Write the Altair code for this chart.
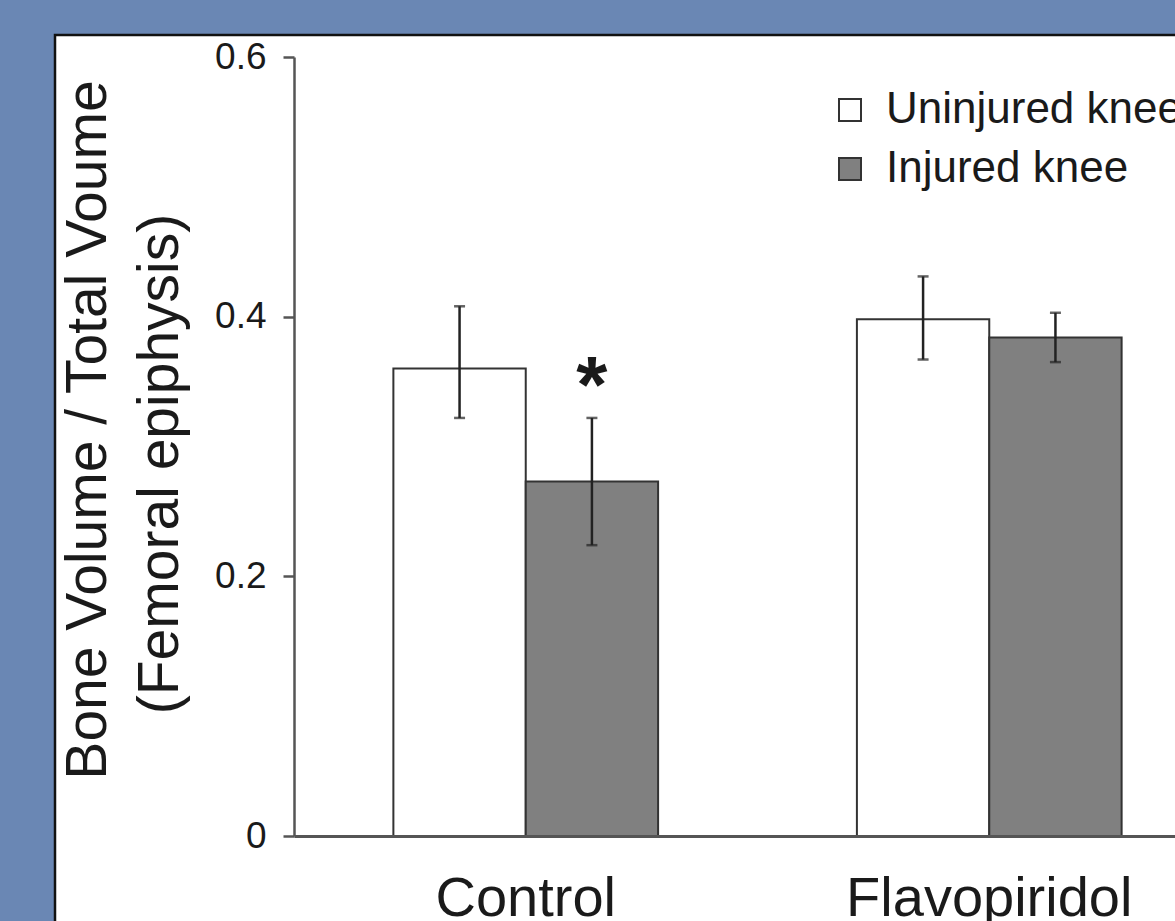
import altair as alt
import pandas as pd

# Bone volume fraction of the femoral epiphysis, mean with error range
groups = ["Control", "Control", "Flavopiridol", "Flavopiridol"]
knees = ["Uninjured knee", "Injured knee", "Uninjured knee", "Injured knee"]
means = [0.360, 0.273, 0.398, 0.384]
err_low = [0.322, 0.224, 0.367, 0.365]
err_high = [0.408, 0.322, 0.431, 0.403]
marks = ["", "*", "", ""]

knee_order = ["Uninjured knee", "Injured knee"]
knee_fill = ["#ffffff", "#808080"]
group_order = ["Control", "Flavopiridol"]
y_ticks = [0, 0.2, 0.4, 0.6]
title_lines = ["Bone Volume / Total Voume", "(Femoral epiphysis)"]

df = pd.DataFrame({
    "group": groups,
    "knee": knees,
    "mean": means,
    "low": err_low,
    "high": err_high,
    "mark": marks,
})

FONT = "Liberation Sans"
INK = "#1a1a1a"
AXIS = "#555555"

x_enc = alt.X(
    "group:N",
    sort=group_order,
    scale=alt.Scale(range=[0, 927], paddingInner=0.4289, paddingOuter=0.2144),
    axis=alt.Axis(
        title=None, ticks=False, labelAngle=0, labelFontSize=56, labelFont=FONT,
        labelColor=INK, labelPadding=35, labelLimit=600, domainColor=AXIS,
        domainWidth=3, zindex=2,
    ),
)
xo_enc = alt.XOffset("knee:N", sort=knee_order,
                     scale=alt.Scale(paddingInner=0, paddingOuter=0))
y_scale = alt.Scale(domain=[0, 0.6], nice=False, zero=True)

base = alt.Chart(df)

# white figure panel with a dark frame behind the plot
panel = alt.Chart(pd.DataFrame({"p": [0]})).mark_rect(
    fill="white", stroke="#111111", strokeWidth=2.5
).encode(
    x=alt.value(-239), x2=alt.value(1200), y=alt.value(-22), y2=alt.value(1200)
)

bars = base.mark_bar(stroke="#333333", strokeWidth=2).encode(
    x=x_enc,
    xOffset=xo_enc,
    y=alt.Y(
        "mean:Q", scale=y_scale,
        axis=alt.Axis(
            title=None, values=y_ticks, format="~g", grid=False,
            labelFontSize=37, labelFont=FONT, labelColor=INK, labelPadding=17,
            tickSize=11, tickColor=AXIS, tickWidth=2.5,
            domainColor=AXIS, domainWidth=2.5, zindex=2,
        ),
    ),
    fill=alt.Fill(
        "knee:N",
        scale=alt.Scale(domain=knee_order, range=knee_fill),
        legend=alt.Legend(
            title=None, orient="none", legendX=534, legendY=31,
            symbolType="square", symbolSize=484, symbolStrokeColor="#333333",
            symbolStrokeWidth=2, labelFontSize=44, labelFont=FONT,
            labelColor=INK, labelOffset=14, labelLimit=500, rowPadding=15,
            padding=0, zindex=2,
        ),
    ),
)

whisker = base.mark_rule(color="#222222", strokeWidth=2.5).encode(
    x=alt.X("group:N", sort=group_order), xOffset=xo_enc,
    y=alt.Y("low:Q", scale=y_scale), y2="high:Q",
)
cap_low = base.mark_tick(color="#222222", size=11, thickness=2.5).encode(
    x=alt.X("group:N", sort=group_order), xOffset=xo_enc,
    y=alt.Y("low:Q", scale=y_scale),
)
cap_high = base.mark_tick(color="#222222", size=11, thickness=2.5).encode(
    x=alt.X("group:N", sort=group_order), xOffset=xo_enc,
    y=alt.Y("high:Q", scale=y_scale),
)

star = base.mark_text(
    fontSize=80, font=FONT, fontWeight="bold", color=INK,
    baseline="alphabetic", dy=-6
).encode(
    x=alt.X("group:N", sort=group_order), xOffset=xo_enc,
    y=alt.Y("high:Q", scale=y_scale), text="mark:N",
)

title1 = alt.Chart(pd.DataFrame({"t": [title_lines[0]]})).mark_text(
    fontSize=57, font=FONT, color=INK, angle=270, align="center",
    baseline="alphabetic",
).encode(x=alt.value(-188), y=alt.value(373), text="t:N")
title2 = alt.Chart(pd.DataFrame({"t": [title_lines[1]]})).mark_text(
    fontSize=57, font=FONT, color=INK, angle=270, align="center",
    baseline="alphabetic",
).encode(x=alt.value(-116), y=alt.value(407), text="t:N")

chart = alt.layer(
    panel, bars, whisker, cap_low, cap_high, star, title1, title2
).properties(
    width=881,
    height=779,
    autosize=alt.AutoSizeParams(type="none"),
    padding={"left": 294, "top": 57, "right": 0, "bottom": 85},
    background="#6a87b4",
).configure_view(stroke=None).configure(font=FONT)

chart.save("out.html", embed_options={"renderer": "svg", "actions": False})
